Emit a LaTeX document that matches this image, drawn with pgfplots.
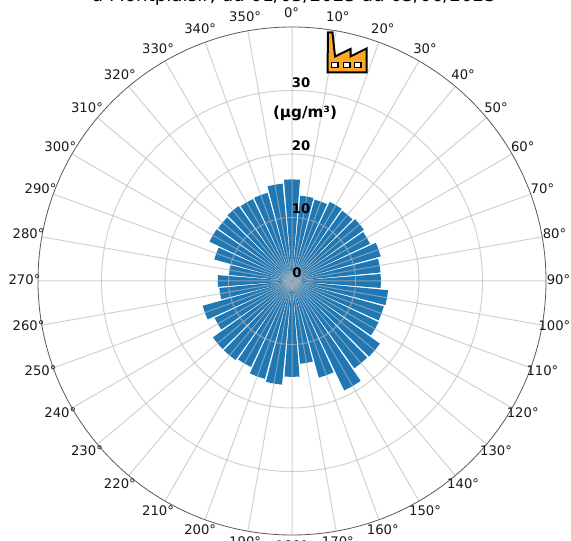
\documentclass[border=0pt]{standalone}
\usepackage{fontspec}
\setmainfont{DejaVu Sans}
\usepackage{pgfplots}
\usepackage{pgfplotstable}
\usepgfplotslibrary{polar}
\pgfplotsset{compat=1.18}
\definecolor{barblue}{HTML}{1F77B4}
\definecolor{factory}{HTML}{FFA726}

% wind direction (deg clockwise from north), concentration
\pgfplotstableread{
dir val
0 16.0
10 13.5
20 13.3
30 13.8
40 13.6
50 13.9
60 13.6
70 14.5
80 14.0
90 14.0
100 15.2
110 15.0
120 15.1
130 17.0
140 16.9
150 19.1
160 15.8
170 13.1
180 15.1
190 16.4
200 16.0
210 15.0
220 15.3
230 15.3
240 13.5
250 14.6
260 11.5
270 11.7
280 10.0
290 12.7
300 14.4
310 14.3
320 14.5
330 14.3
340 14.4
350 15.4
}\rosedata

\begin{document}
\begin{tikzpicture}[x=1bp,y=1bp]
\useasboundingbox (0,0) rectangle (571,541);
\clip (0,0) rectangle (571,541);
\begin{polaraxis}[
    at={(292bp,260bp)}, anchor=origin,
    width=508bp, height=508bp, scale only axis,
    xmin=0, xmax=360, ymin=0, ymax=40,
    xtick={0,10,...,350}, xticklabels={},
    ytick={10,20,30}, yticklabels={},
    grid=both,
    grid style={color=black!28, opacity=0.65, line width=1bp},
    x axis line style={color=black!65, line width=0.8bp},
    y axis line style={draw=none},
    major tick length=0pt,
    axis on top,
]
\pgfplotsforeachungrouped \i in {0,...,35} {
    \pgfplotstablegetelem{\i}{dir}\of\rosedata
    \pgfmathsetmacro\thetaA{90-\pgfplotsretval-4.5}
    \pgfmathsetmacro\thetaB{\thetaA+4.5}
    \pgfmathsetmacro\thetaC{\thetaA+9}
    \pgfplotstablegetelem{\i}{val}\of\rosedata
    \edef\temp{\noexpand\addplot[fill=barblue, draw=none] coordinates {(0,0) (\thetaA,\pgfplotsretval) (\thetaB,\pgfplotsretval) (\thetaC,\pgfplotsretval)} --cycle;}
    \temp
}
\end{polaraxis}

% tick labels, placed by hand like the original
\foreach \a in {0,10,...,350} {
    \pgfmathsetmacro\rr{cos(\a)>0 ? 267.5 : 266}
    \node[font=\fontsize{13.2bp}{15bp}\selectfont, text=black!90, inner sep=0pt]
        at ({291.5+267*sin(\a)},{261+\rr*cos(\a)}) {\a°};
}
\foreach \v/\xx/\yy in {0/297/268,10/301/332,20/301/395,30/301/458} {
    \node[font=\fontsize{13.2bp}{15bp}\selectfont\bfseries, inner sep=0pt] at (\xx,\yy) {\v};
}
\node[font=\fontsize{15.2bp}{17bp}\selectfont\bfseries, inner sep=0pt] at (305,428) {(µg/m³)};
\node[font=\fontsize{18.3bp}{20bp}\selectfont, inner sep=0pt, anchor=base] at (294,539) {à Montplaisir, du 01/05/2023 au 03/06/2023};

% factory icon
\filldraw[fill=factory, draw=black, line width=2bp, line join=miter]
    (327.5,468.5) -- (328,508.5) -- (332.5,508.5) -- (335,484.5) -- (350.5,492) -- (350.5,484.5) -- (366.5,492.5) -- (366.5,468.5) -- cycle;
\foreach \xx in {331.5,343.5,354.5} {
    \filldraw[fill=white, draw=black, line width=1.6bp] (\xx,473.5) rectangle ++(6.5,5);
}
\end{tikzpicture}
\end{document}
